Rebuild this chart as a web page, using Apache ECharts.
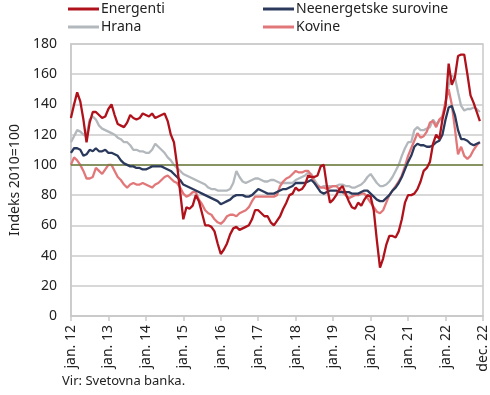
<!DOCTYPE html>
<html><head><meta charset="utf-8">
<script src="https://cdn.jsdelivr.net/npm/echarts@6/dist/echarts.min.js"></script>
<style>html,body{margin:0;padding:0;background:#fff}#c{width:490px;height:395px}</style>
</head><body><div id="c"></div>
<script>
// monthly data jan.2012 .. dec.2022 (index 0..131)
const energenti = [
131,140,148,142,130,115,128,135,135,133,131,132,
137,140,133,127,126,125,128,133,131,130,131,134,
133,132,134,131,132,133,134,129,120,115,100,82,
64,72,71,73,80,76,68,60,60,59,56,48,
41,44,48,54,58,59,57,58,59,60,64,70,
70,68,66,66,62,60,63,66,71,75,80,81,
85,83,84,87,93,92,92,93,99,100,86,75,
77,80,84,86,81,76,72,71,75,73,77,80,
79,70,50,32,38,47,53,53,52,56,64,75,
80,80,81,84,89,96,98,102,114,120,117,130,
139,167,153,158,172,173,173,160,146,141,135,129];
const neenergetske = [
108,111,111,110,106,107,110,109,111,109,109,110,
108,108,107,106,103,101,100,99,99,98,98,97,
97,98,99,99,99,99,98,97,96,94,92,90,
87,86,85,84,83,82,81,80,79,78,77,76,
74,75,76,77,79,80,80,80,79,79,80,82,
84,83,82,81,81,81,82,83,84,84,85,86,
88,88,88,88,89,90,88,85,82,81,82,83,
83,83,82,82,82,82,81,81,81,82,83,83,
81,79,77,76,76,78,80,83,85,88,92,97,
102,106,112,114,113,113,112,112,113,115,116,120,
130,138,139,133,123,117,117,116,114,113,114,115];
const hrana = [
115,119,123,122,120,119,130,132,130,126,124,123,
122,121,120,118,117,115,115,113,110,110,109,109,
108,108,110,114,112,110,108,105,103,100,98,96,
94,93,92,91,90,89,88,87,85,84,84,83,
83,83,83,84,88,96,92,89,88,89,90,91,
91,90,89,89,90,90,89,88,88,88,88,88,
90,91,92,93,95,94,90,87,85,86,86,86,
86,86,87,87,86,86,85,85,86,87,89,92,
94,91,88,86,86,87,89,92,96,100,106,111,
115,115,123,125,123,123,124,125,130,127,129,132,
140,153,159,158,148,139,136,137,137,138,137,135];
const kovine = [
100,105,103,100,96,91,91,92,98,96,94,97,
100,100,96,92,90,87,85,87,88,87,87,88,
87,86,85,87,88,90,92,93,91,89,88,85,
81,79,80,82,82,77,74,70,68,67,64,62,
61,63,66,67,67,66,68,69,70,72,76,79,
79,79,79,79,79,79,80,86,89,91,92,94,
96,95,95,96,96,93,88,86,85,85,84,85,
86,86,84,82,80,78,79,80,80,81,81,78,
75,72,69,68,70,75,80,83,86,89,93,99,
106,111,116,121,118,119,122,128,129,125,130,132,
142,150,140,124,107,112,106,104,106,110,113,115];
const tickLabels = ['jan. 12','jan. 13','jan. 14','jan. 15','jan. 16','jan. 17','jan. 18','jan. 19','jan. 20','jan. 21','jan. 22','dec. 22'];
const seriesNames = ['Energenti','Neenergetske surovine','Hrana','Kovine'];
const colors = ['#b0121b','#2b3a5c','#b3b8bd','#e2777a'];
const refLevel = 100;

const FONT = '"Noto Sans", sans-serif';
const toPairs = a => a.map((v,i)=>[i,v]);
const chart = echarts.init(document.getElementById('c'), null, {renderer:'canvas'});
const allData = [energenti, neenergetske, hrana, kovine];
const legendPos = [{left:68,top:1},{left:263,top:1},{left:68,top:19},{left:263,top:19}];
const legends = seriesNames.map((n,k)=>({
  data:[n], left:legendPos[k].left, top:legendPos[k].top+1, icon:'rect', itemWidth:31, itemHeight:3, itemGap:0,
  textStyle:{fontFamily:FONT,fontSize:14,color:'#222',padding:[0,0,0,-3]}, selectedMode:false, padding:0
}));
const drawOrder = [2,3,1,0];
const series = drawOrder.map(k=>({
  name: seriesNames[k], type:'line', data: toPairs(allData[k]), showSymbol:false, symbol:'none',
  lineStyle:{color:colors[k], width:2.3}, itemStyle:{color:colors[k]}, z: 3+drawOrder.indexOf(k), animation:false,
}));
series.push({type:'line', data:[], name:'ref', silent:true, z:2,
  markLine:{silent:true, symbol:['none','none'], label:{show:false}, animation:false,
    lineStyle:{color:'#6e7d3c', width:1.6, type:'solid'}, data:[{yAxis:refLevel}]}});
chart.setOption({
  animation:false,
  color: colors,
  legend: legends,
  grid:{left:67, right:6, top:44, bottom:79, show:true, borderColor:'#c9c9c9', borderWidth:1.5},
  xAxis:{type:'value', min:0, max:132, interval:12,
    axisLine:{show:true, lineStyle:{color:'#c9c9c9', width:1.5}},
    axisTick:{show:true, length:5, lineStyle:{color:'#c9c9c9', width:1.5}},
    splitLine:{show:false},
    axisLabel:{rotate:90, margin:9, fontFamily:FONT, fontSize:14, color:'#222',
      formatter:v=>tickLabels[Math.round(v/12)]||''}},
  yAxis:{type:'value', min:0, max:180, interval:20,
    name:'Indeks 2010=100', nameLocation:'middle', nameGap:47, nameRotate:90,
    nameTextStyle:{fontFamily:FONT, fontSize:14, color:'#222'},
    axisLine:{show:true, lineStyle:{color:'#c9c9c9', width:1.5}},
    axisTick:{show:false},
    splitLine:{lineStyle:{color:'#cbcbcb', width:1.5}},
    axisLabel:{margin:14, fontFamily:FONT, fontSize:14, color:'#222'}},
  graphic:[{type:'text', left:62, top:375, style:{text:'Vir: Svetovna banka.', fontFamily:FONT, fontSize:13, fill:'#222'}}],
  series
});
</script></body></html>
